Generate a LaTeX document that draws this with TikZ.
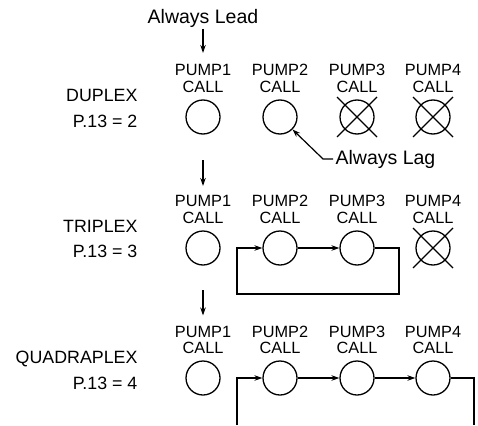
\documentclass[tikz,border=0pt]{standalone}
\usepackage{fontspec}
\setmainfont{Liberation Sans}
\usetikzlibrary{arrows.meta}

\begin{document}
\begin{tikzpicture}[x=1pt,y=-1pt,line width=1.2pt,
  pump/.style={circle,draw,line width=1.3pt,minimum size=34pt,inner sep=0pt},
  call/.style={align=center,inner sep=0pt,font=\fontsize{16.3}{16.5}\selectfont},
  mode/.style={anchor=base east,inner sep=0pt,font=\fontsize{17.8}{20}\selectfont},
  note/.style={inner sep=0pt,font=\fontsize{19.5}{22}\selectfont},
  flow/.style={-{Stealth[length=8pt,width=5.5pt]}},
  off/.style={line width=1.3pt}]
\useasboundingbox (0,0) rectangle (478,425);
\node[note,anchor=base] (lead) at (203,24) {Always Lead};
\node[note,anchor=base west] (lag) at (335,164) {Always Lag};
\node[mode] (m1) at (138,102) {DUPLEX};
\node[mode] (n1) at (138,127) {P.13 = 2};
\node[call] (l11) at (203,78.5) {PUMP1\\CALL};
\node[call] (l12) at (280,78.5) {PUMP2\\CALL};
\node[call] (l13) at (357,78.5) {PUMP3\\CALL};
\node[call] (l14) at (433,78.5) {PUMP4\\CALL};
\node[pump] (p11) at (203,117) {};
\node[pump] (p12) at (280,117) {};
\node[pump] (p13) at (357,117) {};
\node[pump] (p14) at (433,117) {};
\draw[off] ([shift={(-20,-20)}]p13.center) -- ([shift={(20,20)}]p13.center);
\draw[off] ([shift={(-20,20)}]p13.center) -- ([shift={(20,-20)}]p13.center);
\draw[off] ([shift={(-20,-20)}]p14.center) -- ([shift={(20,20)}]p14.center);
\draw[off] ([shift={(-20,20)}]p14.center) -- ([shift={(20,-20)}]p14.center);
\draw[flow,shorten >=11pt] (lead) -- (l11);
\draw[flow] ([xshift=-2pt]lag.west) -- ++(-10,0) -- (p12.south east);
\node[mode] (m2) at (138,232) {TRIPLEX};
\node[mode] (n2) at (138,257) {P.13 = 3};
\node[call] (l21) at (203,209.5) {PUMP1\\CALL};
\node[call] (l22) at (280,209.5) {PUMP2\\CALL};
\node[call] (l23) at (357,209.5) {PUMP3\\CALL};
\node[call] (l24) at (433,209.5) {PUMP4\\CALL};
\node[pump] (p21) at (203,248) {};
\node[pump] (p22) at (280,248) {};
\node[pump] (p23) at (357,248) {};
\node[pump] (p24) at (433,248) {};
\draw[off] ([shift={(-20,-20)}]p24.center) -- ([shift={(20,20)}]p24.center);
\draw[off] ([shift={(-20,20)}]p24.center) -- ([shift={(20,-20)}]p24.center);
\coordinate (a2) at (203,160);
\draw[flow,shorten >=9pt] (a2) -- (l21);
\draw[flow] (p22) -- (p23);
\coordinate (c23) at (399,294);
\coordinate (c22) at (237,294);
\draw[flow] (p23.east) -| (c23) -- (c22) |- (p22.west);
\node[mode] (m3) at (138,363) {QUADRAPLEX};
\node[mode] (n3) at (138,389) {P.13 = 4};
\node[call] (l31) at (203,340) {PUMP1\\CALL};
\node[call] (l32) at (280,340) {PUMP2\\CALL};
\node[call] (l33) at (357,340) {PUMP3\\CALL};
\node[call] (l34) at (433,340) {PUMP4\\CALL};
\node[pump] (p31) at (203,378) {};
\node[pump] (p32) at (280,378) {};
\node[pump] (p33) at (357,378) {};
\node[pump] (p34) at (433,378) {};
\coordinate (a3) at (203,290);
\draw[flow,shorten >=10pt] (a3) -- (l31);
\draw[flow] (p32) -- (p33);
\draw[flow] (p33) -- (p34);
\coordinate (b34) at (474,425);
\coordinate (b32) at (237,425);
\draw (p34.east) -| (b34);
\draw[flow] (b32) |- (p32.west);
\end{tikzpicture}
\end{document}
